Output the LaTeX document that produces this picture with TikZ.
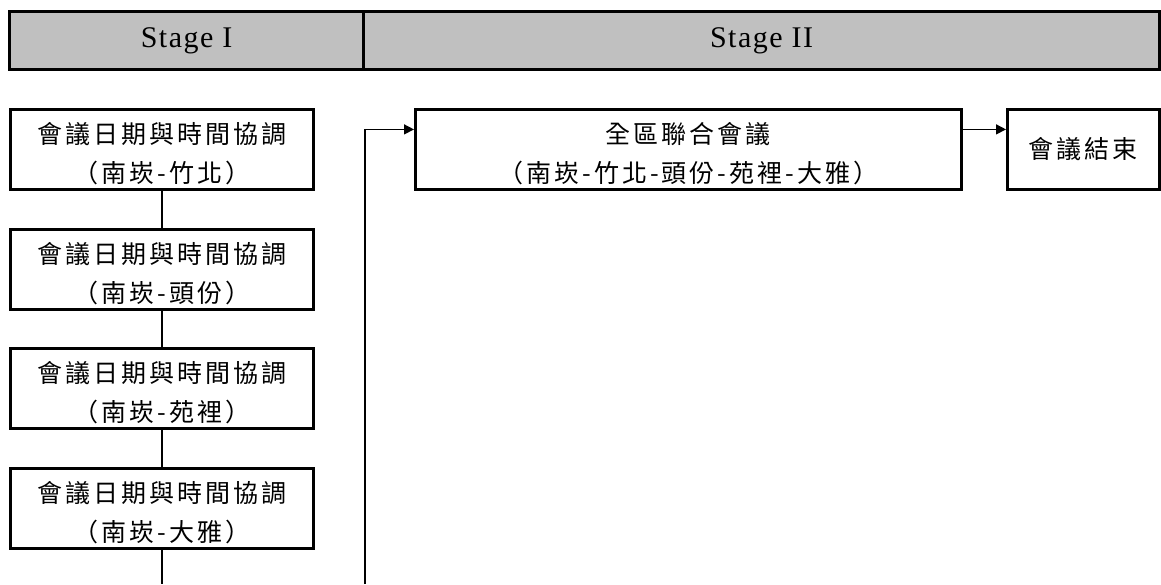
\documentclass[tikz,border=0pt]{standalone}
\usepackage{fontspec}
\setmainfont{Liberation Serif}
\newfontfamily\cjk[LetterSpace=12]{Noto Sans CJK TC}
\newfontfamily\hdr[LetterSpace=5]{Liberation Serif}
\usetikzlibrary{arrows.meta}
\definecolor{hdrgray}{HTML}{C0C0C0}
\newcommand{\tstrut}{\rule{0pt}{30pt}}
\begin{document}
\begin{tikzpicture}[x=1pt,y=-1pt,
  box/.style={draw,line width=2.8pt,minimum width=303pt,minimum height=80pt,inner sep=0pt,anchor=north west,align=center,font=\cjk\fontsize{25}{39}\selectfont},
  hbox/.style={draw,line width=3.2pt,fill=hdrgray,minimum height=58pt,inner sep=0pt,anchor=north west,font=\hdr\fontsize{30}{34}\selectfont},
  link/.style={line width=1.4pt},
  arr/.style={line width=1.4pt,-{Triangle[length=10pt,width=10pt]}}]
\useasboundingbox (0,0) rectangle (1161,584);
\node[hbox,minimum width=354pt] (s1) at (8,10) {Stage I};
\node[hbox,minimum width=796pt] (s2) at (362,10) {Stage II};
\node[box] (b1) at (9,108) {\tstrut 會議日期與時間協調\\（南崁-竹北）};
\node[box] (b2) at (9,228) {\tstrut 會議日期與時間協調\\（南崁-頭份）};
\node[box] (b3) at (9,347) {\tstrut 會議日期與時間協調\\（南崁-苑裡）};
\node[box] (b4) at (9,467) {\tstrut 會議日期與時間協調\\（南崁-大雅）};
\node[box,minimum width=546pt] (big) at (414,108) {\tstrut 全區聯合會議\\（南崁-竹北-頭份-苑裡-大雅）};
\node[box,minimum width=152pt] (fin) at (1006,108) {會議結束};
\coordinate (bottom) at (0,584);
\coordinate (vbot) at (365,584);
\draw[link] (b1.south) -- (b2.north);
\draw[link] (b2.south) -- (b3.north);
\draw[link] (b3.south) -- (b4.north);
\draw[link] (b4.south) -- (b4.south |- bottom);
\draw[arr] (vbot) |- ([yshift=20pt]big.west);
\draw[arr] ([yshift=20pt]big.east) -- ([yshift=20pt]fin.west);
\end{tikzpicture}
\end{document}
